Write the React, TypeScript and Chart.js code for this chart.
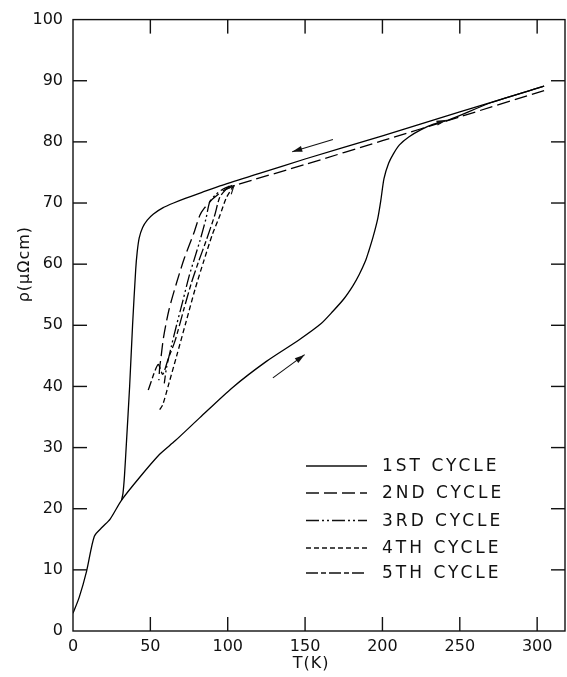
import React, { useEffect, useRef } from "react";
import { Chart, registerables } from "chart.js";
Chart.register(...registerables);

// ---- data (T in K, rho in micro-ohm cm) ----
const xTickValues = [0, 50, 100, 150, 200, 250, 300];
const yTickValues = [0, 10, 20, 30, 40, 50, 60, 70, 80, 90, 100];

const cycleLabels = ["1ST CYCLE", "2ND CYCLE", "3RD CYCLE", "4TH CYCLE", "5TH CYCLE"];

// 1st cycle, heating branch
const c1HeatT = [0, 4, 8.8, 13.8, 19, 24, 31.4, 43, 56, 66, 82, 103, 125, 146, 160, 168, 175, 181, 185, 189, 191, 194, 197, 199, 201, 204, 207, 211, 217, 225, 233, 243, 270, 304.5];
const c1HeatR = [2.9, 5.5, 9.8, 15.5, 17, 18.3, 21.4, 25.1, 28.9, 31.1, 34.9, 39.8, 44.1, 47.6, 50.2, 52.3, 54.3, 56.5, 58.3, 60.5, 62, 64.5, 67.5, 70.5, 74, 76.5, 78, 79.5, 80.8, 82, 82.9, 83.6, 86.4, 89.1];
// 1st cycle, cooling branch
const c1CoolT = [304.5, 250, 200, 150, 120, 95, 83, 73, 65, 58, 52, 48, 45, 42.8, 41.5, 40.5, 38.5, 36.6, 34.6, 33.3, 32.3, 31.4];
const c1CoolR = [89.1, 84.9, 81.0, 77.2, 74.8, 72.8, 71.7, 70.8, 70.0, 69.2, 68.2, 67.2, 66.0, 64.3, 62.0, 59.0, 50, 40, 31.1, 25.5, 22.5, 21.4];

// 2nd cycle
const c2T = [304.5, 250, 200, 150, 105, 97, 90, 85, 82, 78, 72, 67, 62, 58.5, 57, 56, 55.5];
const c2R = [88.4, 84.1, 80.2, 76.3, 72.9, 72, 70.6, 69.2, 68, 65, 61, 57, 52.5, 48, 45, 43, 41];
// 3rd cycle
const c3T = [103, 97, 92, 88.4, 86, 82, 78, 75, 71, 67, 63.5, 60.4, 59];
const c3R = [72.9, 72.3, 71.3, 70.2, 67.5, 63.8, 60.5, 58, 54, 50.1, 46.5, 43, 40.5];
// 4th cycle
const c4T = [104, 99, 95, 90, 84.5, 79, 73, 67, 62, 58, 56];
const c4R = [72.9, 70.8, 68, 64.8, 60.5, 56, 50.5, 45, 40.5, 37, 36.2];
// 5th cycle
const c5T = [101, 95, 91.6, 86, 81, 76.6, 71.5, 66, 61.5, 58, 55, 48.6];
const c5R = [72.8, 71, 68, 63.8, 60.3, 57, 52.5, 47.5, 44.5, 42, 43.6, 39.4];

// direction arrows (tail -> head), data units
const arrowTailT = [168, 129.2];
const arrowTailR = [80.4, 41.4];
const arrowHeadT = [141.7, 149.7];
const arrowHeadR = [78.4, 45.2];

// small arrowheads on the curves (direction from -> tip), data units
const headFromT = [233, 97];
const headFromR = [82.9, 70.8];
const headTipT = [242, 104];
const headTipR = [83.6, 72.8];
const headFilled = [true, false];

// ---- styles ----
const DASHES: number[][] = [[], [13, 5], [13, 3, 2, 3, 2, 3], [5, 3], [12, 3, 5, 3]];
const FONT = "'DejaVu Sans', sans-serif";
const INK = "#111";
const TICK_LEN = 14;

const pts = (t: number[], r: number[]) => t.map((v, i) => ({ x: v, y: r[i] }));

function seg(ctx: CanvasRenderingContext2D, x0: number, y0: number, x1: number, y1: number) {
  ctx.beginPath();
  ctx.moveTo(x0, y0);
  ctx.lineTo(x1, y1);
  ctx.stroke();
}

function head(ctx: CanvasRenderingContext2D, x0: number, y0: number, x1: number, y1: number, hl: number, hw: number, filled: boolean) {
  const ang = Math.atan2(y1 - y0, x1 - x0);
  const ax = x1 - hl * Math.cos(ang) + hw * Math.sin(ang);
  const ay = y1 - hl * Math.sin(ang) - hw * Math.cos(ang);
  const bx = x1 - hl * Math.cos(ang) - hw * Math.sin(ang);
  const by = y1 - hl * Math.sin(ang) + hw * Math.cos(ang);
  ctx.beginPath();
  if (filled) {
    ctx.moveTo(x1, y1);
    ctx.lineTo(ax, ay);
    ctx.lineTo(bx, by);
    ctx.closePath();
    ctx.fill();
  } else {
    ctx.moveTo(ax, ay);
    ctx.lineTo(x1, y1);
    ctx.lineTo(bx, by);
    ctx.stroke();
  }
}

const framePlugin = {
  id: "frameTicks",
  afterDraw(chart: any) {
    const ctx: CanvasRenderingContext2D = chart.ctx;
    const a = chart.chartArea;
    const xs = chart.scales.x;
    const ys = chart.scales.y;
    const left = a.left, right = a.right, top = a.top, bottom = a.bottom;
    ctx.save();
    ctx.setLineDash([]);
    ctx.strokeStyle = INK;
    ctx.fillStyle = INK;
    ctx.lineWidth = 1.4;
    ctx.strokeRect(left, top, right - left, bottom - top);
    // inward tick marks on all four sides
    xTickValues.forEach((v) => {
      const px = xs.getPixelForValue(v);
      if (px - left < 3 || right - px < 3) return;
      ctx.fillRect(px - 0.7, bottom - TICK_LEN, 1.4, TICK_LEN);
      ctx.fillRect(px - 0.7, top, 1.4, TICK_LEN);
    });
    yTickValues.forEach((v) => {
      const py = ys.getPixelForValue(v);
      if (py - top < 3 || bottom - py < 3) return;
      ctx.fillRect(left, py - 0.7, TICK_LEN, 1.4);
      ctx.fillRect(right - TICK_LEN, py - 0.7, TICK_LEN, 1.4);
    });

    // arrows
    ctx.lineWidth = 1.1;
    for (let i = 0; i < arrowTailT.length; i++) {
      const x0 = xs.getPixelForValue(arrowTailT[i]);
      const y0 = ys.getPixelForValue(arrowTailR[i]);
      const x1 = xs.getPixelForValue(arrowHeadT[i]);
      const y1 = ys.getPixelForValue(arrowHeadR[i]);
      seg(ctx, x0, y0, x1, y1);
      head(ctx, x0, y0, x1, y1, 10, 3, true);
    }
    for (let i = 0; i < headTipT.length; i++) {
      head(
        ctx,
        xs.getPixelForValue(headFromT[i]), ys.getPixelForValue(headFromR[i]),
        xs.getPixelForValue(headTipT[i]), ys.getPixelForValue(headTipR[i]),
        headFilled[i] ? 11 : 8, headFilled[i] ? 2.5 : 3.5, headFilled[i]
      );
    }

    // axis titles
    ctx.font = `16px ${FONT}`;
    ctx.textAlign = "center";
    ctx.textBaseline = "middle";
    (ctx as any).letterSpacing = "1px";
    ctx.fillText("T(K)", (left + right) / 2 - 8, 664);
    ctx.save();
    ctx.translate(25, ys.getPixelForValue(60));
    ctx.rotate(-Math.PI / 2);
    ctx.fillText("\u03C1(\u03BC\u03A9cm)", 0, 0);
    ctx.restore();

    // legend
    const rowY = [466, 493, 520.5, 548, 573];
    ctx.font = `17px ${FONT}`;
    (ctx as any).letterSpacing = "3px";
    ctx.textAlign = "left";
    ctx.textBaseline = "middle";
    cycleLabels.forEach((lab, i) => {
      ctx.lineWidth = 1.4;
      ctx.setLineDash(DASHES[i]);
      seg(ctx, 306, rowY[i], 367, rowY[i]);
      ctx.setLineDash([]);
      ctx.fillText(lab, 382, rowY[i] + 1);
    });
    ctx.restore();
  },
};

export default function App() {
  const ref = useRef<HTMLCanvasElement | null>(null);
  useEffect(() => {
    if (!ref.current) return;
    const mk = (label: string, data: any[], i: number) => ({
      label,
      data,
      showLine: true,
      borderColor: "#000",
      backgroundColor: "#000",
      borderWidth: 1.3,
      borderDash: DASHES[i],
      pointRadius: 0,
      tension: 0.25,
      fill: false,
    });
    const chart = new Chart(ref.current, {
      type: "scatter",
      data: {
        datasets: [
          mk(cycleLabels[0], pts(c1HeatT, c1HeatR), 0),
          mk(cycleLabels[0] + " ", pts(c1CoolT, c1CoolR), 0),
          mk(cycleLabels[1], pts(c2T, c2R), 1),
          mk(cycleLabels[2], pts(c3T, c3R), 2),
          mk(cycleLabels[3], pts(c4T, c4R), 3),
          mk(cycleLabels[4], pts(c5T, c5R), 4),
        ],
      },
      options: {
        animation: false,
        responsive: false,
        devicePixelRatio: 1,
        layout: { padding: { top: 17, right: 2, left: 0, bottom: 0 } },
        plugins: { legend: { display: false }, tooltip: { enabled: false } },
        scales: {
          x: {
            type: "linear",
            min: 0,
            max: 318,
            grid: { display: false, drawTicks: false },
            border: { display: false },
            ticks: { padding: 6, color: INK, font: { family: FONT, size: 16 }, maxRotation: 0 },
            afterBuildTicks: (s: any) => { s.ticks = xTickValues.map((v) => ({ value: v })); },
            afterFit: (s: any) => { s.height = 46; },
          },
          y: {
            type: "linear",
            min: 0,
            max: 100,
            grid: { display: false, drawTicks: false },
            border: { display: false },
            ticks: { padding: 10, color: INK, font: { family: FONT, size: 16 } },
            afterBuildTicks: (s: any) => { s.ticks = yTickValues.map((v) => ({ value: v })); },
            afterFit: (s: any) => { s.width = 73; },
          },
        },
      } as any,
      plugins: [framePlugin],
    });
    return () => chart.destroy();
  }, []);
  return (
    <div style={{ position: "absolute", left: 0, top: 0, width: 567, height: 677, background: "#fff" }}>
      <canvas ref={ref} width={567} height={677} style={{ display: "block" }} />
    </div>
  );
}
